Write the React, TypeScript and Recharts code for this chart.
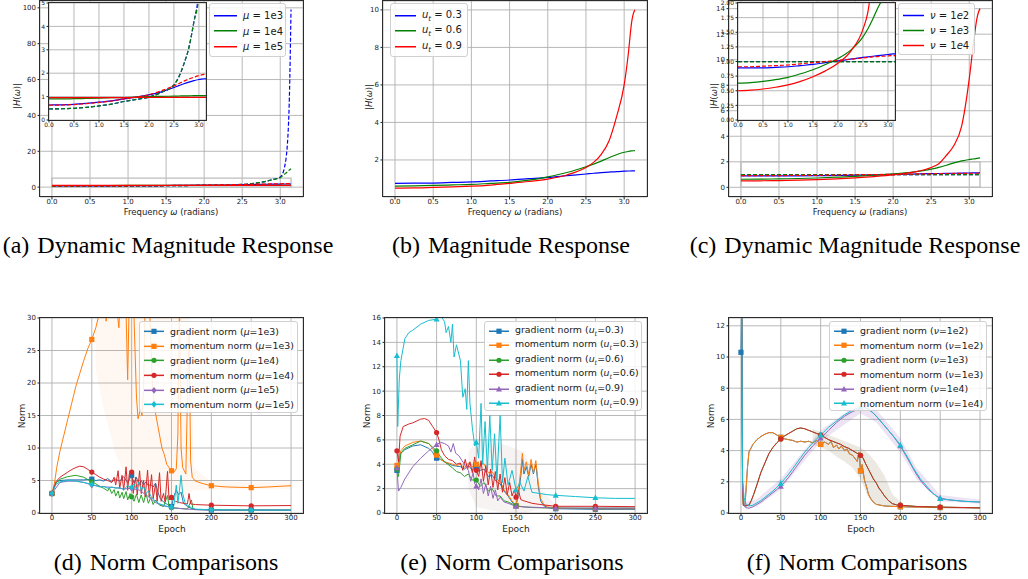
import React from 'react';
import { ComposedChart, Line, Area, XAxis, YAxis, CartesianGrid, ReferenceArea } from 'recharts';

// ---------- top row: frequency grid (radians) ----------
const FREQ = [0, 0.25, 0.5, 0.75, 1.0, 1.25, 1.5, 1.75, 2.0, 2.25, 2.5, 2.6, 2.7, 2.8, 2.9, 3.0, 3.05, 3.1, 3.12, 3.1416];

// (a) dynamic magnitude response
const A_MU1E3 = [0.64, 0.65, 0.67, 0.71, 0.76, 0.82, 0.9, 0.98, 1.07, 1.2, 1.39, 1.47, 1.55, 1.62, 1.68, 1.73, 1.745, 1.755, 1.758, 1.76];
const A_MU1E4 = [0.9, 0.9, 0.91, 0.92, 0.93, 0.95, 0.96, 0.98, 1.0, 1.01, 1.02, 1.025, 1.03, 1.035, 1.04, 1.04, 1.04, 1.04, 1.04, 1.04];
const A_MU1E5 = [0.96, 0.96, 0.96, 0.96, 0.96, 0.96, 0.96, 0.965, 0.965, 0.965, 0.97, 0.97, 0.97, 0.97, 0.97, 0.97, 0.97, 0.97, 0.97, 0.97];
const A_DYN_MU1E3 = [0.47, 0.48, 0.5, 0.54, 0.6, 0.68, 0.79, 0.88, 0.98, 1.18, 1.5, 1.85, 2.4, 3.1, 4.2, 5.6, 10, 28, 50, 99];
const A_DYN_MU1E4 = [0.47, 0.48, 0.5, 0.54, 0.6, 0.68, 0.79, 0.88, 0.98, 1.18, 1.5, 1.85, 2.4, 3.1, 4.2, 5.3, 7, 8.8, 9.6, 10.3];
const A_DYN_MU1E5 = [0.63, 0.64, 0.66, 0.7, 0.75, 0.81, 0.9, 0.98, 1.08, 1.25, 1.46, 1.56, 1.66, 1.75, 1.83, 1.9, 1.93, 1.95, 1.96, 1.97];

// (b) magnitude response
const B_U03 = [0.75, 0.76, 0.77, 0.8, 0.83, 0.88, 0.93, 1.0, 1.07, 1.16, 1.25, 1.29, 1.32, 1.35, 1.38, 1.4, 1.41, 1.415, 1.42, 1.42];
const B_U06 = [0.61, 0.62, 0.64, 0.67, 0.7, 0.75, 0.8, 0.92, 1.1, 1.33, 1.64, 1.78, 1.94, 2.12, 2.28, 2.41, 2.45, 2.48, 2.49, 2.5];
const B_U09 = [0.5, 0.51, 0.54, 0.57, 0.6, 0.66, 0.75, 0.85, 0.98, 1.2, 1.6, 1.87, 2.3, 3.0, 4.3, 6.0, 7.5, 9.4, 9.8, 10.0];

// (c) dynamic magnitude response
const C_NU1E2 = [0.89, 0.89, 0.89, 0.9, 0.91, 0.93, 0.95, 0.98, 1.01, 1.04, 1.07, 1.08, 1.09, 1.1, 1.11, 1.12, 1.125, 1.13, 1.13, 1.13];
const C_NU1E3 = [0.63, 0.64, 0.66, 0.69, 0.73, 0.79, 0.86, 0.95, 1.05, 1.19, 1.42, 1.56, 1.73, 1.92, 2.07, 2.18, 2.22, 2.26, 2.28, 2.3];
const C_NU1E4 = [0.5, 0.51, 0.53, 0.56, 0.6, 0.66, 0.74, 0.84, 0.97, 1.17, 1.55, 1.85, 2.5, 3.3, 4.8, 8.5, 11.0, 13.2, 13.7, 14.0];
const C_DYN_NU1E2 = [1.0, 1.0, 1.0, 1.0, 1.0, 1.0, 1.0, 1.0, 1.0, 1.0, 1.0, 1.0, 1.0, 1.0, 1.0, 1.0, 1.0, 1.0, 1.0, 1.0];
const C_DYN_NU1E3 = [0.995, 0.995, 0.995, 0.995, 0.995, 0.995, 0.995, 0.995, 0.995, 0.995, 0.995, 0.995, 0.995, 0.995, 0.995, 0.995, 0.995, 0.995, 0.995, 0.995];
const C_DYN_NU1E4 = [0.91, 0.91, 0.92, 0.93, 0.94, 0.96, 0.98, 1.0, 1.02, 1.04, 1.06, 1.07, 1.08, 1.085, 1.09, 1.095, 1.1, 1.1, 1.1, 1.1];

// ---------- bottom row: [epoch, norm] ----------
// (d) mu sweep
const D_GRAD_1E3 = [[0, 3], [3, 4.2], [6, 4.8], [10, 5.0], [20, 5.1], [30, 5.1], [40, 5.1], [50, 5.2], [55, 5.0], [60, 5.1], [65, 4.9], [70, 5.3], [75, 4.8], [80, 5.2], [85, 4.9], [90, 5.6], [95, 4.7], [100, 5.8], [103, 4.6], [106, 5.5], [109, 4.4], [112, 5.0], [115, 4.3], [118, 4.8], [121, 4.2], [124, 4.4], [127, 4.0], [130, 4.6], [133, 3.2], [136, 2.2], [140, 1.7], [145, 1.3], [150, 1.0], [153, 2.6], [156, 3.5], [159, 2.8], [162, 3.2], [165, 1.5], [170, 1.0], [175, 0.7], [180, 0.55], [190, 0.5], [200, 0.45], [250, 0.45], [300, 0.45]];
const D_MOM_1E3 = [[0, 3], [3, 4.5], [6, 7], [10, 9.5], [15, 12], [20, 14.5], [25, 17], [30, 19.5], [35, 21.5], [40, 23.5], [45, 25.3], [50, 26.7], [55, 28.5], [58, 30], [62, 33], [66, 35], [68, 29.5], [70, 34], [75, 35], [80, 33], [84, 28.5], [86, 34], [90, 35], [93, 31], [95, 20.5], [97, 33], [100, 35], [103, 30], [106, 18], [108, 14.5], [111, 16], [113, 15], [115, 19], [117, 33], [120, 35], [123, 30], [126, 20], [129, 16], [132, 14], [135, 12], [138, 10], [141, 9], [144, 7.5], [147, 7], [150, 6.5], [153, 6.3], [156, 6.8], [158, 12], [160, 33], [162, 10], [164, 7], [166, 6.5], [168, 6], [170, 18], [172, 28], [174, 8], [176, 5.5], [180, 4.9], [190, 4.5], [200, 4.2], [220, 4.0], [250, 3.9], [270, 4.0], [300, 4.2]];
const D_MOM_1E3_BAND = [[55, 22, 33], [65, 16, 36], [80, 9, 36], [100, 4, 36], [120, 3, 36], [140, 2.5, 32], [160, 2.5, 36], [172, 3, 36], [178, 3.5, 7], [200, 3.6, 4.8], [300, 3.7, 4.7]];
const D_GRAD_1E4 = [[0, 3], [5, 4.6], [10, 5.2], [20, 5.6], [30, 5.8], [40, 5.5], [50, 4.8], [55, 4.5], [60, 4.1], [65, 3.8], [70, 3.4], [72, 3.9], [75, 3.0], [78, 3.6], [80, 2.6], [83, 3.4], [85, 2.3], [88, 3.2], [90, 2.2], [93, 3.3], [95, 2.0], [98, 3.0], [100, 2.5], [103, 1.8], [106, 2.9], [109, 1.6], [112, 2.8], [115, 1.6], [118, 3.0], [121, 1.5], [124, 2.4], [127, 1.3], [130, 2.0], [135, 1.2], [140, 1.0], [145, 2.7], [147, 0.9], [150, 0.8], [160, 0.7], [170, 0.6], [175, 2.0], [177, 0.55], [200, 0.5], [250, 0.45], [300, 0.45]];
const D_MOM_1E4 = [[0, 3], [5, 4.8], [10, 5.5], [15, 5.9], [20, 6.3], [25, 6.7], [30, 7.0], [35, 7.2], [40, 7.1], [45, 6.7], [50, 6.3], [55, 5.9], [60, 5.5], [65, 5.2], [70, 5.0], [75, 4.7], [78, 5.5], [80, 4.3], [83, 6.5], [85, 3.8], [88, 5.8], [90, 3.5], [93, 7.1], [95, 3.5], [97, 6.0], [100, 6.3], [102, 3.0], [105, 5.5], [107, 2.8], [110, 6.5], [112, 3.0], [115, 5.0], [117, 2.5], [120, 6.6], [122, 2.5], [125, 5.9], [127, 2.2], [130, 4.5], [132, 1.8], [135, 6.2], [137, 1.8], [140, 3.0], [142, 1.7], [145, 6.4], [147, 2.0], [150, 2.4], [155, 1.8], [160, 1.6], [165, 1.5], [170, 1.4], [172, 3.0], [174, 1.4], [180, 1.3], [200, 1.2], [250, 1.1], [300, 1.15]];
const D_GRAD_1E5 = [[0, 3], [10, 4.7], [20, 4.9], [30, 4.9], [40, 4.7], [50, 4.3], [60, 4.1], [70, 4.0], [80, 3.9], [90, 3.7], [100, 3.8], [110, 3.5], [120, 2.6], [130, 1.6], [140, 1.1], [150, 0.85], [160, 0.7], [170, 0.6], [180, 0.5], [200, 0.45], [250, 0.45], [300, 0.45]];
const D_MOM_1E5 = [[0, 3], [5, 4.4], [10, 4.8], [20, 5.0], [30, 4.9], [40, 4.7], [50, 4.4], [55, 4.2], [60, 4.0], [65, 4.1], [70, 3.8], [75, 4.0], [80, 3.8], [85, 3.9], [90, 3.6], [95, 4.2], [100, 3.95], [103, 4.5], [106, 3.7], [109, 4.8], [112, 3.5], [115, 4.1], [118, 3.0], [121, 3.4], [125, 2.4], [130, 1.8], [135, 1.4], [140, 1.2], [145, 1.0], [150, 0.9], [153, 1.2], [156, 4.3], [158, 1.5], [160, 3.5], [162, 5.8], [164, 3.0], [167, 1.6], [170, 1.2], [175, 0.8], [180, 0.6], [200, 0.5], [250, 0.45], [300, 0.45]];

// (e) u_t sweep
const E_GRAD_03 = [[0, 3.5], [2, 4.0], [5, 4.9], [10, 5.2], [20, 5.5], [30, 5.6], [40, 5.3], [45, 5.0], [48, 4.6], [50, 4.5], [55, 4.4], [60, 4.2], [70, 3.9], [80, 3.8], [85, 3.6], [90, 3.9], [95, 3.5], [100, 3.8], [105, 3.5], [110, 3.6], [115, 3.0], [120, 3.1], [125, 2.6], [130, 2.4], [135, 1.8], [140, 1.4], [145, 0.9], [150, 0.6], [153, 1.5], [156, 3.0], [158, 4.4], [160, 3.2], [163, 3.8], [166, 3.0], [169, 4.0], [172, 3.2], [175, 4.0], [178, 2.2], [181, 1.0], [185, 0.6], [190, 0.45], [200, 0.35], [250, 0.3], [300, 0.3]];
const E_MOM_03 = [[0, 3.9], [2, 4.2], [5, 5.1], [10, 5.5], [20, 5.8], [30, 5.9], [40, 5.7], [45, 5.3], [48, 4.9], [50, 4.75], [55, 4.4], [60, 4.2], [70, 4.0], [75, 3.9], [80, 4.0], [85, 3.7], [90, 4.1], [95, 3.8], [100, 4.0], [103, 3.6], [106, 4.1], [110, 4.0], [115, 3.3], [120, 3.4], [125, 2.8], [130, 2.6], [135, 1.9], [140, 1.5], [145, 1.0], [150, 0.6], [153, 1.8], [156, 3.5], [158, 4.9], [160, 3.5], [163, 4.2], [166, 3.1], [169, 4.4], [172, 3.3], [175, 4.3], [178, 2.5], [181, 1.2], [185, 0.7], [190, 0.5], [200, 0.4], [250, 0.35], [300, 0.35]];
const E_GRAD_06 = [[0, 3.6], [2, 3.0], [5, 4.9], [10, 5.3], [20, 5.6], [30, 5.9], [40, 5.7], [45, 5.4], [50, 5.1], [55, 4.6], [60, 4.2], [70, 3.7], [75, 3.4], [80, 3.3], [85, 3.0], [90, 3.2], [95, 2.7], [100, 2.7], [105, 2.2], [110, 2.5], [115, 1.8], [120, 2.0], [125, 1.4], [130, 1.4], [135, 1.0], [140, 0.9], [150, 0.6], [160, 0.5], [170, 0.45], [200, 0.4], [250, 0.4], [300, 0.4]];
const E_MOM_06 = [[0, 5.1], [2, 4.2], [4, 6.3], [8, 7.1], [15, 7.3], [20, 7.4], [30, 7.7], [35, 7.75], [40, 7.6], [45, 7.1], [50, 6.6], [53, 6.0], [56, 5.2], [60, 4.7], [65, 4.4], [70, 4.3], [75, 4.0], [80, 4.1], [83, 3.5], [86, 4.4], [89, 3.6], [92, 4.2], [95, 3.3], [98, 4.6], [100, 3.5], [103, 3.0], [106, 4.3], [109, 2.6], [112, 3.9], [115, 2.3], [118, 3.6], [121, 2.1], [124, 3.4], [127, 1.9], [130, 3.2], [133, 1.7], [136, 2.9], [139, 1.5], [142, 2.5], [145, 1.4], [148, 1.9], [150, 1.3], [153, 1.9], [156, 1.1], [160, 1.0], [170, 0.8], [180, 0.7], [200, 0.55], [250, 0.55], [300, 0.52]];
const E_GRAD_09 = [[0, 3.7], [2, 1.8], [5, 2.1], [10, 2.8], [20, 3.8], [30, 4.5], [40, 5.1], [50, 5.6], [55, 5.8], [60, 5.7], [65, 5.5], [68, 5.0], [71, 5.7], [74, 4.9], [78, 4.7], [82, 4.3], [86, 3.9], [90, 3.5], [93, 2.6], [96, 3.3], [98, 2.4], [100, 2.2], [103, 1.9], [106, 2.8], [109, 1.6], [112, 2.4], [115, 1.4], [118, 2.2], [121, 1.2], [124, 1.9], [127, 1.0], [130, 1.3], [135, 0.9], [140, 0.8], [150, 0.55], [160, 0.5], [200, 0.4], [250, 0.4], [300, 0.4]];
const E_MOM_09 = [[0, 12.9], [1, 7.1], [3, 11], [5, 12.5], [10, 14.3], [15, 14.8], [20, 15.0], [30, 15.5], [40, 15.8], [50, 15.9], [55, 16.2], [60, 15.7], [62, 14.8], [65, 15.3], [68, 14.0], [70, 15.5], [72, 12.8], [75, 13.8], [80, 12.5], [83, 9.5], [86, 10.2], [88, 8.5], [90, 12.5], [92, 9.0], [95, 7.0], [98, 5.5], [100, 5.8], [103, 4.5], [106, 9.0], [108, 4.0], [111, 7.5], [114, 3.5], [117, 8.0], [120, 3.5], [123, 6.5], [126, 2.7], [130, 8.0], [133, 2.5], [136, 4.5], [140, 2.3], [145, 3.5], [150, 1.9], [155, 2.5], [160, 1.8], [165, 3.0], [170, 1.7], [180, 1.6], [190, 1.5], [200, 1.45], [225, 1.35], [250, 1.25], [275, 1.2], [300, 1.2]];
const E_BAND = [[90, 2, 5], [100, 0.5, 6], [120, 0.2, 6], [140, 0, 5.5], [160, 0, 5], [180, 0.3, 2], [200, 0.3, 0.7]];

// (f) nu sweep
const F_MOM_1E2 = [[0, 13.5], [1, 14], [2, 2.0], [3, 0.5], [5, 0.45], [6, 1.2], [8, 2.8], [10, 3.9], [15, 4.4], [20, 4.7], [25, 4.9], [30, 5.05], [35, 5.15], [40, 5.15], [45, 5.0], [50, 4.85], [55, 4.75], [60, 4.7], [65, 4.65], [70, 4.55], [75, 4.6], [80, 4.55], [85, 4.6], [90, 4.5], [95, 4.65], [100, 4.4], [105, 4.55], [110, 4.4], [113, 4.6], [116, 4.2], [120, 4.35], [123, 4.1], [126, 4.3], [130, 4.0], [133, 4.1], [136, 3.8], [140, 3.7], [143, 3.5], [146, 3.3], [148, 3.9], [150, 2.7], [152, 3.1], [155, 2.1], [158, 1.6], [160, 1.2], [163, 0.9], [166, 0.7], [170, 0.55], [180, 0.45], [200, 0.4], [250, 0.35], [300, 0.33]];
const F_GRAD_1E2 = [[0, 10.3], [1, 14], ...F_MOM_1E2.slice(2)];
const F_MOM_1E3 = [[0, 13.5], [1, 14], [2, 2], [3, 0.5], [5, 0.45], [10, 0.5], [13, 0.8], [16, 1.2], [20, 1.8], [25, 2.6], [30, 3.2], [35, 3.8], [40, 4.2], [45, 4.5], [50, 4.75], [55, 4.95], [60, 5.1], [65, 5.25], [70, 5.4], [75, 5.45], [80, 5.4], [85, 5.3], [90, 5.2], [95, 5.1], [100, 5.0], [105, 4.85], [110, 4.7], [115, 4.6], [120, 4.5], [125, 4.4], [130, 4.25], [135, 4.15], [140, 4.0], [145, 3.85], [150, 3.7], [153, 3.55], [156, 3.2], [160, 2.8], [163, 2.5], [166, 2.2], [170, 1.9], [173, 1.6], [176, 1.4], [180, 1.1], [185, 0.8], [190, 0.6], [195, 0.52], [200, 0.5], [220, 0.42], [250, 0.38], [300, 0.33]];
const F_GRAD_1E3 = F_MOM_1E3;
const F_GRAD_1E4 = [[0, 13.5], [1, 14], [2, 1.5], [4, 0.5], [6, 0.35], [10, 0.3], [15, 0.4], [20, 0.55], [25, 0.7], [30, 0.9], [35, 1.1], [40, 1.3], [45, 1.5], [50, 1.7], [55, 2.0], [60, 2.3], [65, 2.65], [70, 3.0], [75, 3.35], [80, 3.7], [85, 4.0], [90, 4.3], [95, 4.55], [100, 4.8], [110, 5.3], [120, 5.8], [130, 6.2], [140, 6.5], [150, 6.7], [155, 6.75], [160, 6.65], [165, 6.45], [170, 6.2], [175, 5.9], [180, 5.6], [185, 5.3], [190, 5.0], [195, 4.65], [200, 4.3], [205, 3.85], [210, 3.4], [215, 2.95], [220, 2.5], [225, 2.1], [230, 1.8], [235, 1.5], [240, 1.3], [245, 1.1], [250, 0.95], [260, 0.85], [270, 0.8], [280, 0.75], [300, 0.7]];
const F_MOM_1E4 = [[0, 13.5], [1, 14], [2, 2], [4, 1.0], [6, 0.6], [10, 0.45], [15, 0.5], [20, 0.65], [25, 0.8], [30, 1.0], [35, 1.2], [40, 1.4], [45, 1.65], [50, 1.9], [55, 2.2], [60, 2.5], [65, 2.85], [70, 3.2], [75, 3.55], [80, 3.9], [85, 4.2], [90, 4.5], [95, 4.75], [100, 5.0], [110, 5.5], [120, 5.9], [130, 6.3], [140, 6.6], [150, 6.8], [155, 6.8], [160, 6.65], [165, 6.45], [170, 6.2], [175, 5.9], [180, 5.6], [185, 5.3], [190, 5.0], [195, 4.7], [200, 4.35], [205, 3.9], [210, 3.5], [215, 3.0], [220, 2.6], [225, 2.2], [230, 1.9], [235, 1.6], [240, 1.3], [245, 1.1], [250, 0.92], [260, 0.85], [270, 0.8], [280, 0.75], [300, 0.7]];
const F_BAND_MID = [[90, 4.4, 5.4], [100, 4.2, 5.2], [110, 4.0, 5.0], [120, 3.6, 4.8], [130, 3.3, 4.6], [140, 2.9, 4.4], [150, 2.2, 4.2], [160, 1.0, 3.8], [170, 0.6, 3.2], [180, 0.5, 2.4], [190, 0.45, 1.2], [200, 0.4, 0.7]];
const F_BAND_LATE = [[5, 0.3, 0.7], [20, 0.4, 0.9], [50, 1.5, 2.2], [100, 4.6, 5.3], [150, 6.4, 7.1], [170, 5.8, 6.6], [200, 3.9, 4.8], [220, 2.2, 2.9], [250, 0.75, 1.15], [300, 0.6, 0.85]];

const EPOCH_TICKS = [0, 50, 100, 150, 200, 250, 300];
const FREQ_TICKS = [0, 0.5, 1.0, 1.5, 2.0, 2.5, 3.0];
const MARK_EPOCHS = [0, 50, 100, 150, 200, 250];

const BLUE = '#0000ff';
const GREEN = '#008000';
const RED = '#ff0000';
const T_BLUE = '#1f77b4';
const T_ORANGE = '#ff7f0e';
const T_GREEN = '#2ca02c';
const T_RED = '#d62728';
const T_PURPLE = '#9467bd';
const T_CYAN = '#17becf';

const SANS = '"DejaVu Sans", sans-serif';
const SERIF = '"Liberation Serif", "Times New Roman", serif';

type Shape = 'o' | 's' | 'D' | '^';
type Pt = { x: number; y: number };

const zip = (xs: number[], ys: number[]): Pt[] => xs.map((x, i) => ({ x, y: ys[i] }));
const pairs = (p: number[][]): Pt[] => p.map(([x, y]) => ({ x, y }));
const band = (p: number[][]) => p.map(([x, lo, hi]) => ({ x, r: [lo, hi] }));

const Marker = ({ shape, x, y, color, r = 2.6 }: { shape: Shape; x: number; y: number; color: string; r?: number }) => {
  if (shape === 's') return <rect x={x - r} y={y - r} width={2 * r} height={2 * r} fill={color} />;
  if (shape === 'D') return <polygon points={`${x},${y - r * 1.3} ${x + r},${y} ${x},${y + r * 1.3} ${x - r},${y}`} fill={color} />;
  if (shape === '^') return <polygon points={`${x},${y - r * 1.25} ${x + r * 1.15},${y + r * 0.9} ${x - r * 1.15},${y + r * 0.9}`} fill={color} />;
  return <circle cx={x} cy={y} r={r} fill={color} />;
};

// markevery=50 style dots
const markDot = (shape: Shape, color: string) => (p: any) => {
  const key = `m${p.index}`;
  if (!p.payload || !MARK_EPOCHS.includes(p.payload.x) || !Number.isFinite(p.cx) || !Number.isFinite(p.cy)) return <g key={key} />;
  return (
    <g key={key}>
      <Marker shape={shape} x={p.cx} y={p.cy} color={color} />
    </g>
  );
};

interface Series { data: Pt[]; color: string; dash?: string; width?: number; marker?: Shape; smooth?: boolean }
interface Band { data: { x: number; r: number[] }[]; color: string; opacity: number }
interface PanelProps {
  box: number[];
  xDomain: number[];
  yDomain: number[];
  xTicks: number[];
  yTicks: number[];
  xFmt?: (v: number) => string;
  yFmt?: (v: number) => string;
  series: Series[];
  bands?: Band[];
  zoomRect?: number[];
  font?: number;
  white?: boolean;
}

const Panel = ({ box, xDomain, yDomain, xTicks, yTicks, xFmt, yFmt, series, bands = [], zoomRect, font = 7, white }: PanelProps) => {
  const [x0, y0, x1, y1] = box;
  const w = x1 - x0;
  const h = y1 - y0;
  const L = 50, T = 6, R = 6, B = 22;
  const tick = { fontSize: font, fill: '#222', fontFamily: SANS };
  return (
    <>
      {white && <div style={{ position: 'absolute', left: x0, top: y0, width: w, height: h, background: '#fff' }} />}
      <div style={{ position: 'absolute', left: x0 - L, top: y0 - T }}>
        <ComposedChart width={w + L + R} height={h + T + B} margin={{ top: T, right: R, bottom: 0, left: 0 }}>
          <CartesianGrid stroke="#b0b0b0" strokeWidth={0.9} />
          <XAxis type="number" dataKey="x" domain={xDomain} ticks={xTicks} allowDataOverflow interval={0}
            height={B} tickSize={2.5} tickMargin={0} tick={tick} tickFormatter={xFmt} axisLine={false} tickLine={{ stroke: '#222' }} />
          <YAxis type="number" domain={yDomain} ticks={yTicks} allowDataOverflow interval={0}
            width={L} tickSize={2.5} tickMargin={1.5} tick={tick} tickFormatter={yFmt} axisLine={false} tickLine={{ stroke: '#222' }} />
          {bands.map((b, i) => (
            <Area key={`b${i}`} data={b.data} dataKey="r" type="linear" stroke="none" fill={b.color} fillOpacity={b.opacity}
              dot={false} activeDot={false} isAnimationActive={false} />
          ))}
          {zoomRect && (
            <ReferenceArea x1={zoomRect[0]} x2={zoomRect[1]} y1={zoomRect[2]} y2={zoomRect[3]} fill="none" stroke="#bdbdbd" strokeWidth={1.4} />
          )}
          {series.map((s, i) => (
            <Line key={`s${i}`} data={s.data} dataKey="y" type={s.smooth ? 'monotone' : 'linear'} stroke={s.color}
              strokeWidth={s.width ?? 1.2} strokeDasharray={s.dash} dot={s.marker ? markDot(s.marker, s.color) : false}
              activeDot={false} isAnimationActive={false} />
          ))}
        </ComposedChart>
      </div>
      <div style={{ position: 'absolute', left: x0 - 0.7, top: y0 - 0.7, width: w + 1.4, height: h + 1.4, border: '1.4px solid #2b2b2b', boxSizing: 'border-box', pointerEvents: 'none' }} />
    </>
  );
};

interface LegItem { label: React.ReactNode; color: string; marker?: Shape }
const LegendBox = ({ left, top, width, height, rowH, items, font, handleW }: { left: number; top: number; width: number; height: number; rowH: number; items: LegItem[]; font: number; handleW: number }) => (
  <div style={{ position: 'absolute', left, top, width, height, paddingTop: (height - rowH * items.length) / 2, background: 'rgba(255,255,255,0.85)', border: '1px solid #d0d0d0', borderRadius: 3, boxSizing: 'border-box', fontSize: font, fontFamily: SANS, color: '#1a1a1a' }}>
    {items.map((it, i) => (
      <div key={i} style={{ height: rowH, display: 'flex', alignItems: 'center', whiteSpace: 'nowrap' }}>
        <svg width={handleW} height={rowH} style={{ marginLeft: 3, marginRight: 5, flex: 'none' }}>
          <line x1={1} x2={handleW - 1} y1={rowH / 2} y2={rowH / 2} stroke={it.color} strokeWidth={1.5} />
          {it.marker && <Marker shape={it.marker} x={handleW / 2} y={rowH / 2} color={it.color} />}
        </svg>
        <span>{it.label}</span>
      </div>
    ))}
  </div>
);

const Text = ({ x, y, children, size = 8.5, rotate, serif }: { x: number; y: number; children: React.ReactNode; size?: number; rotate?: boolean; serif?: boolean }) => (
  <div style={{ position: 'absolute', left: x, top: y, transform: `translate(-50%, -50%)${rotate ? ' rotate(-90deg)' : ''}`, fontSize: size, fontFamily: serif ? SERIF : SANS, whiteSpace: 'nowrap', color: serif ? '#000' : '#1a1a1a' }}>
    {children}
  </div>
);

const Caption = ({ x, y, tag, text }: { x: number; y: number; tag: string; text: string }) => (
  <Text x={x} y={y} size={24} serif>
    <span style={{ marginRight: 8 }}>{tag}</span>
    {text}
  </Text>
);

const fmt1 = (v: number) => v.toFixed(1);
const fmt2 = (v: number) => v.toFixed(2);
const fmt0 = (v: number) => String(v);

const HW = <span>|<i>H</i>(<i>ω</i>)|</span>;
const FREQ_LABEL = <span>Frequency <i>ω</i> (radians)</span>;

const aSeries: Series[] = [
  { data: zip(FREQ, A_MU1E3), color: BLUE, smooth: true },
  { data: zip(FREQ, A_DYN_MU1E3), color: BLUE, dash: '4 2', smooth: true },
  { data: zip(FREQ, A_MU1E4), color: GREEN, smooth: true },
  { data: zip(FREQ, A_DYN_MU1E4), color: GREEN, dash: '4 2', smooth: true },
  { data: zip(FREQ, A_MU1E5), color: RED, smooth: true },
  { data: zip(FREQ, A_DYN_MU1E5), color: RED, dash: '4 2', smooth: true },
];
const bSeries: Series[] = [
  { data: zip(FREQ, B_U03), color: BLUE, smooth: true },
  { data: zip(FREQ, B_U06), color: GREEN, smooth: true },
  { data: zip(FREQ, B_U09), color: RED, smooth: true },
];
const cSeries: Series[] = [
  { data: zip(FREQ, C_NU1E2), color: BLUE, smooth: true },
  { data: zip(FREQ, C_DYN_NU1E2), color: BLUE, dash: '4 2', smooth: true },
  { data: zip(FREQ, C_NU1E3), color: GREEN, smooth: true },
  { data: zip(FREQ, C_DYN_NU1E3), color: GREEN, dash: '4 2', smooth: true },
  { data: zip(FREQ, C_NU1E4), color: RED, smooth: true },
  { data: zip(FREQ, C_DYN_NU1E4), color: RED, dash: '4 2', smooth: true },
];
const dSeries: Series[] = [
  { data: pairs(D_GRAD_1E3), color: T_BLUE, marker: 's', width: 1 },
  { data: pairs(D_MOM_1E3), color: T_ORANGE, marker: 's', width: 1 },
  { data: pairs(D_GRAD_1E4), color: T_GREEN, marker: 'o', width: 1 },
  { data: pairs(D_MOM_1E4), color: T_RED, marker: 'o', width: 1 },
  { data: pairs(D_GRAD_1E5), color: T_PURPLE, marker: 'D', width: 1 },
  { data: pairs(D_MOM_1E5), color: T_CYAN, marker: 'D', width: 1 },
];
const eSeries: Series[] = [
  { data: pairs(E_GRAD_03), color: T_BLUE, marker: 's', width: 1 },
  { data: pairs(E_MOM_03), color: T_ORANGE, marker: 's', width: 1 },
  { data: pairs(E_GRAD_06), color: T_GREEN, marker: 'o', width: 1 },
  { data: pairs(E_MOM_06), color: T_RED, marker: 'o', width: 1 },
  { data: pairs(E_GRAD_09), color: T_PURPLE, marker: '^', width: 1 },
  { data: pairs(E_MOM_09), color: T_CYAN, marker: '^', width: 1 },
];
const fSeries: Series[] = [
  { data: pairs(F_GRAD_1E2), color: T_BLUE, marker: 's', width: 1 },
  { data: pairs(F_MOM_1E2), color: T_ORANGE, marker: 's', width: 1 },
  { data: pairs(F_GRAD_1E3), color: T_GREEN, marker: 'o', width: 1 },
  { data: pairs(F_MOM_1E3), color: T_RED, marker: 'o', width: 1 },
  { data: pairs(F_GRAD_1E4), color: T_PURPLE, marker: '^', width: 1 },
  { data: pairs(F_MOM_1E4), color: T_CYAN, marker: '^', width: 1 },
];

const mu = (v: string) => <span><i>μ</i> = 1e{v}</span>;
const ut = (v: string) => <span><i>u</i><sub style={{ fontSize: '0.7em' }}><i>t</i></sub> = {v}</span>;
const nu = (v: string) => <span><i>ν</i> = 1<i>e</i>{v}</span>;
const normLab = (kind: string, sym: React.ReactNode, v: string) => <span>{kind} norm ({sym}={v})</span>;
const MU = <i>μ</i>;
const UT = <span><i>u</i><sub style={{ fontSize: '0.7em' }}><i>t</i></sub></span>;
const NU = <i>ν</i>;

export default function App() {
  return (
    <div style={{ position: 'absolute', left: 0, top: 0, width: 1028, height: 579, background: '#fff', overflow: 'hidden', fontFamily: SANS }}>
      {/* (a) */}
      <Panel box={[40, 0.5, 303, 196.5]} xDomain={[-0.157, 3.299]} yDomain={[-5.5, 103.8]} xTicks={FREQ_TICKS} yTicks={[0, 20, 40, 60, 80, 100]}
        xFmt={fmt1} yFmt={fmt0} series={aSeries} zoomRect={[0, 3.1416, 0, 5]} />
      <Panel box={[49, 3, 206, 120]} xDomain={[0, 3.1416]} yDomain={[0, 5]} xTicks={FREQ_TICKS} yTicks={[0, 1, 2, 3, 4, 5]}
        xFmt={fmt1} yFmt={fmt0} series={aSeries} font={6} white />
      <LegendBox left={209} top={3} width={77} height={54} rowH={15.5} font={10} handleW={25}
        items={[{ label: mu('3'), color: BLUE }, { label: mu('4'), color: GREEN }, { label: mu('5'), color: RED }]} />
      <Text x={17} y={96} rotate>{HW}</Text>
      <Text x={171} y={212}>{FREQ_LABEL}</Text>
      <Caption x={168} y={245} tag="(a)" text="Dynamic Magnitude Response" />

      {/* (b) */}
      <Panel box={[383, 0.5, 647, 196.5]} xDomain={[-0.157, 3.299]} yDomain={[0.025, 10.475]} xTicks={FREQ_TICKS} yTicks={[2, 4, 6, 8, 10]}
        xFmt={fmt1} yFmt={fmt0} series={bSeries} />
      <LegendBox left={390} top={3} width={78} height={54} rowH={15.5} font={10} handleW={23}
        items={[{ label: ut('0.3'), color: BLUE }, { label: ut('0.6'), color: GREEN }, { label: ut('0.9'), color: RED }]} />
      <Text x={369} y={97} rotate>{HW}</Text>
      <Text x={515} y={212}>{FREQ_LABEL}</Text>
      <Caption x={511} y={245} tag="(b)" text="Magnitude Response" />

      {/* (c) */}
      <Panel box={[729, 0.5, 992, 196.5]} xDomain={[-0.157, 3.299]} yDomain={[-0.76, 14.6]} xTicks={FREQ_TICKS} yTicks={[0, 2, 4, 6, 8, 10, 12, 14]}
        xFmt={fmt1} yFmt={fmt0} series={cSeries} zoomRect={[0, 3.1416, 0, 2]} />
      <Panel box={[738, 3, 895, 120]} xDomain={[0, 3.1416]} yDomain={[0, 2]} xTicks={FREQ_TICKS} yTicks={[0, 0.25, 0.5, 0.75, 1, 1.25, 1.5, 1.75, 2]}
        xFmt={fmt1} yFmt={fmt2} series={cSeries} font={6} white />
      <LegendBox left={898} top={3} width={77} height={52} rowH={15} font={10} handleW={23}
        items={[{ label: nu('2'), color: BLUE }, { label: nu('3'), color: GREEN }, { label: nu('4'), color: RED }]} />
      <Text x={714} y={96} rotate>{HW}</Text>
      <Text x={860} y={212}>{FREQ_LABEL}</Text>
      <Caption x={855} y={245} tag="(c)" text="Dynamic Magnitude Response" />

      {/* (d) */}
      <Panel box={[40, 318, 303, 513]} xDomain={[-15, 315]} yDomain={[0, 30]} xTicks={EPOCH_TICKS} yTicks={[0, 5, 10, 15, 20, 25, 30]}
        yFmt={fmt0} series={dSeries} bands={[{ data: band(D_MOM_1E3_BAND), color: T_ORANGE, opacity: 0.06 }]} />
      <LegendBox left={139} top={321} width={159} height={92} rowH={14.7} font={9.4} handleW={22}
        items={[
          { label: normLab('gradient', MU, '1e3'), color: T_BLUE, marker: 's' },
          { label: normLab('momentum', MU, '1e3'), color: T_ORANGE, marker: 's' },
          { label: normLab('gradient', MU, '1e4'), color: T_GREEN, marker: 'o' },
          { label: normLab('momentum', MU, '1e4'), color: T_RED, marker: 'o' },
          { label: normLab('gradient', MU, '1e5'), color: T_PURPLE, marker: 'D' },
          { label: normLab('momentum', MU, '1e5'), color: T_CYAN, marker: 'D' },
        ]} />
      <Text x={22} y={416} size={9} rotate>Norm</Text>
      <Text x={172} y={529} size={9}>Epoch</Text>
      <Caption x={166} y={562} tag="(d)" text="Norm Comparisons" />

      {/* (e) */}
      <Panel box={[385, 318, 647, 513]} xDomain={[-15, 315]} yDomain={[0, 16]} xTicks={EPOCH_TICKS} yTicks={[0, 2, 4, 6, 8, 10, 12, 14, 16]}
        yFmt={fmt0} series={eSeries} bands={[{ data: band(E_BAND), color: '#8c564b', opacity: 0.07 }]} />
      <LegendBox left={484} top={321} width={158} height={90} rowH={14.5} font={9.4} handleW={22}
        items={[
          { label: normLab('gradient', UT, '0.3'), color: T_BLUE, marker: 's' },
          { label: normLab('momentum', UT, '0.3'), color: T_ORANGE, marker: 's' },
          { label: normLab('gradient', UT, '0.6'), color: T_GREEN, marker: 'o' },
          { label: normLab('momentum', UT, '0.6'), color: T_RED, marker: 'o' },
          { label: normLab('gradient', UT, '0.9'), color: T_PURPLE, marker: '^' },
          { label: normLab('momentum', UT, '0.9'), color: T_CYAN, marker: '^' },
        ]} />
      <Text x={367} y={416} size={9} rotate>Norm</Text>
      <Text x={516} y={529} size={9}>Epoch</Text>
      <Caption x={512} y={562} tag="(e)" text="Norm Comparisons" />

      {/* (f) */}
      <Panel box={[729, 318, 992, 513]} xDomain={[-15, 315]} yDomain={[0, 12.5]} xTicks={EPOCH_TICKS} yTicks={[0, 2, 4, 6, 8, 10, 12]}
        yFmt={fmt0} series={fSeries}
        bands={[{ data: band(F_BAND_MID), color: '#a08c6e', opacity: 0.2 }, { data: band(F_BAND_LATE), color: T_PURPLE, opacity: 0.18 }]} />
      <LegendBox left={829} top={321} width={158} height={90} rowH={14.5} font={9.4} handleW={22}
        items={[
          { label: normLab('gradient', NU, '1e2'), color: T_BLUE, marker: 's' },
          { label: normLab('momentum', NU, '1e2'), color: T_ORANGE, marker: 's' },
          { label: normLab('gradient', NU, '1e3'), color: T_GREEN, marker: 'o' },
          { label: normLab('momentum', NU, '1e3'), color: T_RED, marker: 'o' },
          { label: normLab('gradient', NU, '1e4'), color: T_PURPLE, marker: '^' },
          { label: normLab('momentum', NU, '1e4'), color: T_CYAN, marker: '^' },
        ]} />
      <Text x={711} y={416} size={9} rotate>Norm</Text>
      <Text x={861} y={529} size={9}>Epoch</Text>
      <Caption x={857} y={562} tag="(f)" text="Norm Comparisons" />
    </div>
  );
}
